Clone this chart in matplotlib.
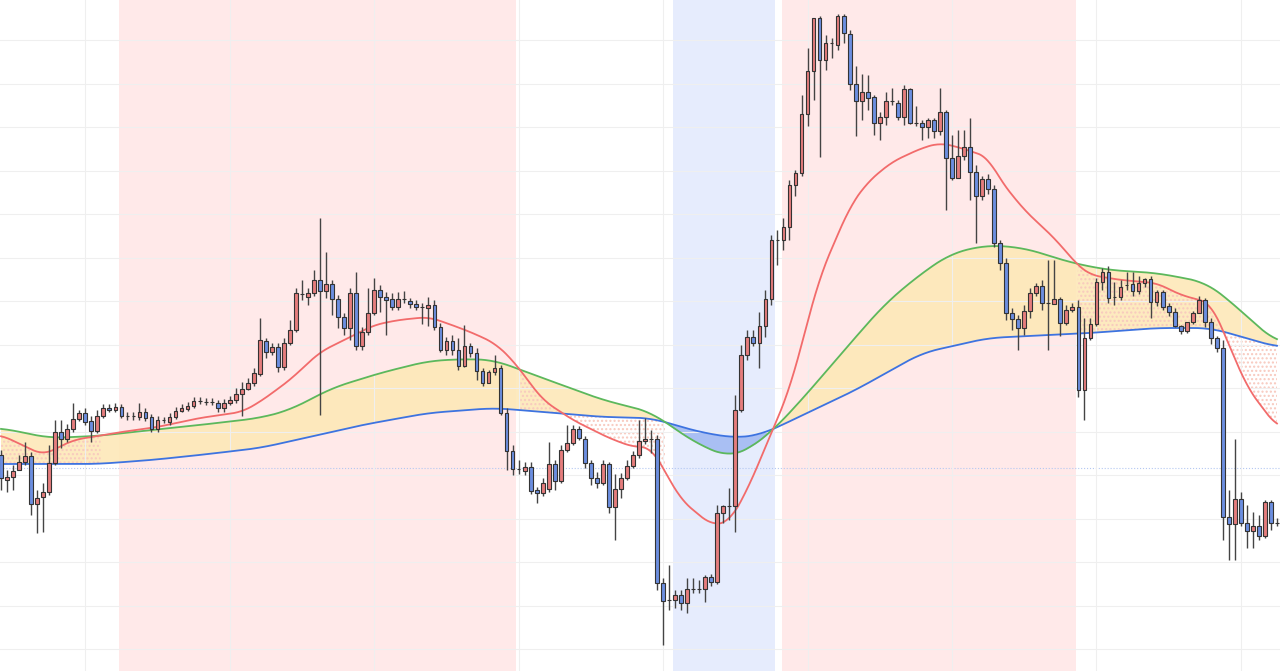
import numpy as np
import matplotlib.pyplot as plt

# candle values (pixel rows, converted to price below)
opens = [455,480,477,470,462,456,504,497,492,463,432,439,429,419,413,421,431,416,408,410,
         407,416,416,417,412,417,429,420,422,417,411,409,406,401,402,402,403,408,403,400,
         394,389,383,374,341,352,347,367,343,330,294,297,293,280,291,284,299,317,328,293,
         346,332,313,290,297,299,307,299,301,304,307,308,305,327,350,341,350,366,346,353,
         371,383,372,368,413,451,469,471,467,490,493,489,464,481,450,443,429,439,463,478,
         483,464,507,489,478,466,455,441,439,439,583,600,600,595,603,589,589,589,577,582,
         513,506,506,410,355,337,343,326,299,240,240,227,185,173,114,71,18,60,43,45,
         16,34,84,101,92,97,123,117,101,103,117,89,123,123,127,120,131,112,158,178,
         156,147,172,196,179,189,243,263,313,319,328,311,293,286,303,304,299,323,310,307,
         390,338,324,282,272,297,297,285,284,291,283,279,302,292,306,312,326,331,322,313,
         300,322,338,348,517,524,499,523,531,526,536,502,523]
closes = [478,477,471,462,456,504,498,492,463,432,439,429,419,413,422,431,416,408,410,407,
          416,416,416,412,418,429,420,420,417,411,408,406,401,401,402,402,408,403,400,394,
          389,383,373,340,352,347,367,343,330,293,294,293,280,291,284,299,317,328,293,346,
          332,313,290,297,300,307,299,299,304,307,307,305,327,350,341,350,366,346,353,371,
          383,372,368,413,451,469,469,467,491,493,483,464,481,450,443,429,438,463,478,483,
          464,507,489,478,466,455,441,439,439,583,601,600,595,603,589,589,589,577,582,513,
          506,506,410,355,337,343,326,299,240,240,227,185,173,114,71,18,60,43,43,16,
          33,84,101,92,98,123,117,101,101,117,89,123,123,127,120,131,112,158,178,156,
          147,172,196,179,189,243,263,313,319,328,311,293,286,303,303,299,323,310,307,390,
          338,324,282,272,298,297,287,285,291,283,279,302,292,307,312,326,331,322,313,300,
          322,338,348,517,524,499,523,531,526,536,502,523,523]
highs = [450,470,465,455,442,452,490,483,445,420,420,424,403,410,408,416,410,404,404,403,
         404,412,412,403,408,414,416,417,413,407,404,402,397,397,398,398,400,399,396,388,
         382,378,368,318,338,343,343,338,320,288,280,288,270,218,252,280,295,313,288,272,
         327,288,278,285,292,293,292,291,298,300,303,297,300,323,337,335,338,325,343,348,
         368,370,355,365,408,445,460,462,462,487,478,442,460,445,425,425,426,436,460,472,
         460,462,474,473,460,451,420,418,430,435,578,565,590,590,578,578,580,575,574,505,
         505,488,395,345,330,330,312,290,235,230,218,180,170,95,48,18,16,35,38,14,
         14,30,66,74,75,95,112,92,88,100,85,88,106,120,118,118,88,110,135,130,
         130,118,165,176,174,185,240,258,308,315,305,288,283,280,260,260,297,305,303,300,
         318,318,278,268,266,282,280,272,272,276,278,276,290,290,303,308,325,322,311,296,
         298,318,336,340,490,439,492,505,512,515,500,500,518]
lows = [490,492,490,470,465,515,533,532,495,465,448,442,432,421,425,442,433,418,412,412,
        418,420,420,420,421,432,432,423,425,419,412,411,408,404,405,405,412,412,405,403,
        416,390,386,376,358,355,372,370,345,332,300,305,296,415,298,315,328,335,340,350,
        350,335,315,312,335,310,310,303,308,310,324,326,330,352,355,355,370,367,357,380,
        386,380,375,415,470,475,474,475,494,503,496,492,490,483,452,445,440,468,485,488,
        485,513,540,498,480,468,458,444,453,590,645,610,608,610,613,593,593,602,586,584,
        523,520,532,412,360,346,368,337,305,265,250,240,196,176,126,100,157,70,58,50,
        43,90,136,120,110,135,140,125,105,120,125,124,126,140,138,138,135,210,180,178,
        160,200,243,200,194,247,270,320,330,350,335,318,296,310,350,304,336,325,312,397,
        420,340,326,290,303,305,300,290,296,294,287,318,306,310,316,327,334,333,324,312,
        327,344,352,540,560,560,526,548,548,540,538,530,526]

# moving averages read at a few bar positions
red_idx = [0,7,12,20,26,33,40,43,48,53,58,62,66,71,74,78,82,85,90,95,101,105,108,113,118,121,
           124,128,131,136,141,144,148,153,156,159,164,166,170,175,179,181,186,192,196,201,203,207,212]
red_val = [435,455,440,432,427,418,412,402,380,352,337,325,320,317,323,332,343,360,400,420,438,447,447,500,525,522,
           490,433,390,277,207,182,162,148,143,147,157,180,210,238,266,275,280,283,295,303,330,387,427]
green_idx = [0,4,8,16,25,33,43,48,55,63,71,77,82,85,100,108,111,116,121,124,128,133,142,147,153,158,
             164,170,178,184,192,200,203,212]
green_val = [428,433,438,436,430,425,418,410,388,373,361,359,360,367,400,412,425,445,457,450,432,400,337,303,273,253,
             245,248,263,270,273,282,295,343]
blue_idx = [0,16,25,33,43,49,60,71,82,100,108,116,122,126,128,142,153,164,181,192,201,212]
blue_val = [464,464,460,455,448,440,425,413,408,417,418,432,438,435,430,390,353,338,333,328,328,347]

pink_spans = [(19.6, 85.5), (129.7, 178.6)]
blue_spans = [(111.6, 128.6)]
ref_level = 468

H = 671
o = H - np.array(opens); c = H - np.array(closes)
hi = H - np.array(highs); lo = H - np.array(lows)
x = np.arange(len(o))


def smooth_line(idx, vals, fx, k=41):
    y = np.interp(fx, idx, H - np.array(vals))
    pad = np.pad(y, k // 2, mode='edge')
    return np.convolve(pad, np.ones(k) / k, mode='valid')


fig = plt.figure(figsize=(12.8, 6.71), dpi=100)
ax = fig.add_axes([0, 0, 1, 1])

for a, b in pink_spans:
    ax.axvspan(a, b, color='#ffe9e9', zorder=0, lw=0)
for a, b in blue_spans:
    ax.axvspan(a, b, color='#e6ecfd', zorder=0, lw=0)

ax.set_xticks(np.arange(14, 213, 24))
ax.set_yticks(H - (40 + 43.5 * np.arange(15)))
ax.grid(True, color='#efefef', lw=0.8, zorder=0.5)
ax.axhline(H - ref_level, color='#b4c8f2', lw=0.8, ls=':', zorder=0.6)

fx = np.linspace(0, 212, 1500)
r = smooth_line(red_idx, red_val, fx, 25)
g = smooth_line(green_idx, green_val, fx)
bl = smooth_line(blue_idx, blue_val, fx)
ax.fill_between(fx, g, bl, where=g >= bl, color='#fde8b8', alpha=0.9, lw=0, zorder=1)
ax.fill_between(fx, g, bl, where=g < bl, color='#9fb7f2', alpha=0.85, lw=0, zorder=1)
ax.fill_between(fx, np.minimum(r, g), bl, where=(r < g) & (g >= bl), facecolor='none',
                edgecolor='#f8c9be', hatch='....', lw=0, zorder=1.2)
ax.plot(fx, bl, color='#3d73e0', lw=1.3, zorder=2)
ax.plot(fx, g, color='#5cb85c', lw=1.3, zorder=2)
ax.plot(fx, r, color='#f26b6b', lw=1.3, zorder=2)

up = c >= o
ax.vlines(x, lo, hi, color='#444444', lw=1.0, zorder=3)
ax.bar(x[up], c[up] - o[up], bottom=o[up], width=0.62, color='#e57d7d',
       edgecolor='#333333', lw=0.8, zorder=4)
ax.bar(x[~up], o[~up] - c[~up], bottom=c[~up], width=0.62, color='#6c8ee0',
       edgecolor='#333333', lw=0.8, zorder=4)

ax.set_xlim(-0.17, 212.5)
ax.set_ylim(0, H)
ax.tick_params(length=0, labelbottom=False, labelleft=False)
for s in ax.spines.values():
    s.set_visible(False)

fig.savefig('out.png', dpi=100)
